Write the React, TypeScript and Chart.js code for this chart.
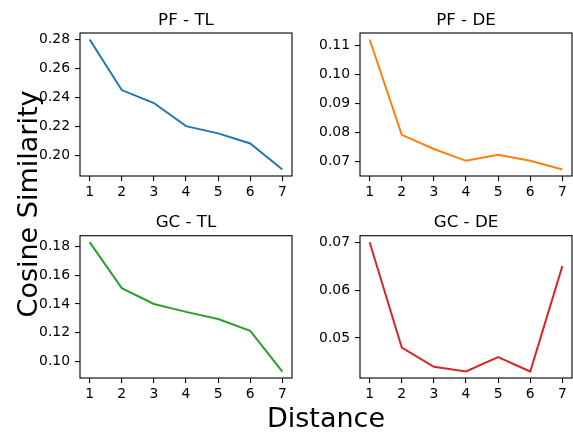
import React, { useEffect, useRef } from "react";
import { Chart, registerables } from "chart.js";

Chart.register(...registerables);

// ---- data ----
const distances = [1, 2, 3, 4, 5, 6, 7];
const pfTl = [0.28, 0.245, 0.236, 0.22, 0.215, 0.208, 0.19];
const pfDe = [0.1122, 0.0792, 0.0743, 0.0702, 0.0723, 0.0702, 0.0672];
const gcTl = [0.183, 0.151, 0.14, 0.1345, 0.1295, 0.1213, 0.093];
const gcDe = [0.07, 0.048, 0.044, 0.043, 0.046, 0.043, 0.065];

const xTicks = [1, 2, 3, 4, 5, 6, 7];
const pfTlTicks = [0.2, 0.22, 0.24, 0.26, 0.28];
const pfDeTicks = [0.07, 0.08, 0.09, 0.1, 0.11];
const gcTlTicks = [0.1, 0.12, 0.14, 0.16, 0.18];
const gcDeTicks = [0.05, 0.06, 0.07];

const titles = ["PF - TL", "PF - DE", "GC - TL", "GC - DE"];
const xLabel = "Distance";
const yLabel = "Cosine Similarity";

// ---- layout / style ----
const W = 573;
const H = 432;
const FONT = "DejaVu Sans";
const colors = ["#1f77b4", "#ff7f0e", "#2ca02c", "#d62728"];
const boxes = [
  { left: 80, top: 33, right: 292, bottom: 176 },
  { left: 360, top: 33, right: 572, bottom: 176 },
  { left: 80, top: 235.7, right: 292, bottom: 378 },
  { left: 360, top: 235.7, right: 572, bottom: 378 },
];
const Y_AXIS_W = 50;
const X_AXIS_H = 30;

const panels = [
  { values: pfTl, ticks: pfTlTicks },
  { values: pfDe, ticks: pfDeTicks },
  { values: gcTl, ticks: gcTlTicks },
  { values: gcDe, ticks: gcDeTicks },
];

function range(vals: number[]) {
  const mn = Math.min(...vals);
  const mx = Math.max(...vals);
  const m = (mx - mn) * 0.05;
  return { min: mn - m, max: mx + m };
}

function makeConfig(i: number, withLabels: boolean): any {
  const p = panels[i];
  const b = boxes[i];
  const yr = range(p.values);
  const xr = range(distances);
  const title = titles[i];
  const framePlugin = {
    id: "frame" + i,
    afterDraw(chart: any) {
      const { ctx, chartArea: a } = chart;
      ctx.save();
      ctx.strokeStyle = "#000";
      ctx.lineWidth = 1.1;
      ctx.strokeRect(a.left, a.top, a.right - a.left, a.bottom - a.top);
      ctx.font = `16.7px "${FONT}"`;
      ctx.fillStyle = "#000";
      ctx.textAlign = "center";
      ctx.textBaseline = "alphabetic";
      ctx.fillText(title, (a.left + a.right) / 2, a.top - 8.3);
      if (withLabels) {
        ctx.font = `27px "${FONT}"`;
        ctx.fillText(xLabel, 326, 427);
        ctx.save();
        ctx.translate(36.5, 204);
        ctx.rotate(-Math.PI / 2);
        ctx.fillText(yLabel, 0, 0);
        ctx.restore();
      }
      ctx.restore();
    },
  };
  const tickFont = { family: FONT, size: 13.9 };
  return {
    type: "line",
    data: {
      datasets: [
        {
          data: distances.map((d, k) => ({ x: d, y: p.values[k] })),
          borderColor: colors[i],
          backgroundColor: colors[i],
          borderWidth: 2,
          pointRadius: 0,
          tension: 0,
          fill: false,
        },
      ],
    },
    options: {
      responsive: false,
      animation: false,
      events: [],
      layout: {
        padding: {
          left: b.left - Y_AXIS_W,
          right: W - b.right,
          top: b.top,
          bottom: H - b.bottom - X_AXIS_H,
        },
      },
      plugins: {
        legend: { display: false },
        tooltip: { enabled: false },
        title: { display: false },
      },
      scales: {
        x: {
          type: "linear",
          min: xr.min,
          max: xr.max,
          afterFit(s: any) {
            s.height = X_AXIS_H;
          },
          afterBuildTicks(s: any) {
            s.ticks = xTicks.map((v) => ({ value: v }));
          },
          ticks: {
            autoSkip: false,
            maxRotation: 0,
            padding: 3,
            color: "#000",
            font: tickFont,
            callback: (v: number) => String(v),
          },
          grid: {
            display: true,
            drawOnChartArea: false,
            drawTicks: true,
            tickLength: 5,
            color: "#000",
            lineWidth: 1.1,
          },
          border: { display: false },
        },
        y: {
          type: "linear",
          min: yr.min,
          max: yr.max,
          afterFit(s: any) {
            s.width = Y_AXIS_W;
          },
          afterBuildTicks(s: any) {
            s.ticks = p.ticks.map((v) => ({ value: v }));
          },
          ticks: {
            autoSkip: false,
            padding: 5,
            color: "#000",
            font: tickFont,
            callback: (v: number) => Number(v).toFixed(2),
          },
          grid: {
            display: true,
            drawOnChartArea: false,
            drawTicks: true,
            tickLength: 5,
            color: "#000",
            lineWidth: 1.1,
          },
          border: { display: false },
        },
      },
    },
    plugins: [framePlugin],
  };
}

function Panel({ index }: { index: number }) {
  const ref = useRef<HTMLCanvasElement | null>(null);
  useEffect(() => {
    if (!ref.current) return;
    const chart = new Chart(ref.current, makeConfig(index, index === 3));
    return () => chart.destroy();
  }, [index]);
  return (
    <canvas
      ref={ref}
      width={W}
      height={H}
      style={{ position: "absolute", left: 0, top: 0, width: W, height: H }}
    />
  );
}

export default function App() {
  return (
    <div
      style={{
        position: "absolute",
        left: 0,
        top: 0,
        width: W,
        height: H,
        background: "#fff",
        overflow: "hidden",
      }}
    >
      {[0, 1, 2, 3].map((i) => (
        <Panel key={i} index={i} />
      ))}
    </div>
  );
}
